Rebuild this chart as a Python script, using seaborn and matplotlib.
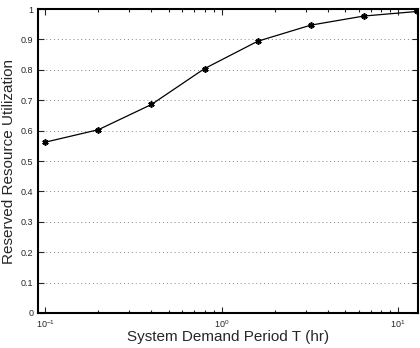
import matplotlib
matplotlib.use("Agg")
import matplotlib.pyplot as plt
import seaborn as sns
import pandas as pd
from matplotlib.ticker import LogLocator

# demand period (hr) vs reserved utilization
period_hr = [0.1, 0.2, 0.4, 0.8, 1.6, 3.2, 6.4, 12.8]
utilization = [0.562, 0.603, 0.686, 0.804, 0.894, 0.947, 0.977, 0.992]
y_ticks = [0, 0.1, 0.2, 0.3, 0.4, 0.5, 0.6, 0.7, 0.8, 0.9, 1]
y_tick_labels = ["0", "0.1", "0.2", "0.3", "0.4", "0.5", "0.6", "0.7", "0.8", "0.9", "1"]

df = pd.DataFrame({"T": period_hr, "util": utilization})

sns.set_style("ticks")
plt.rcParams["font.family"] = ["Liberation Sans", "DejaVu Sans"]
plt.rcParams["mathtext.fontset"] = "custom"
plt.rcParams["mathtext.rm"] = "Liberation Sans"

fig = plt.figure(figsize=(4.2, 3.48), dpi=100)
ax = fig.add_axes([0.0905, 0.1006, 0.905, 0.8734])

sns.lineplot(data=df, x="T", y="util", ax=ax, color="black", linewidth=0.9,
             marker=(6, 2, 0), markersize=4.5, markeredgewidth=1.2, markeredgecolor="black")

ax.set_xscale("log")
ax.set_xlim(0.091, 13.0)
ax.set_ylim(0, 1)
ax.set_yticks(y_ticks)
ax.set_yticklabels(y_tick_labels)
ax.xaxis.set_major_locator(LogLocator(base=10))
ax.xaxis.set_minor_locator(LogLocator(base=10, subs=range(2, 10)))

ax.grid(axis="y", linestyle=(0, (1, 3)), color="#888888", linewidth=0.7)
ax.tick_params(which="both", direction="in", top=True, right=True, labelsize=6.5, width=0.8)
ax.tick_params(which="major", length=4)
ax.tick_params(which="minor", length=2)
for s in ax.spines.values():
    s.set_linewidth(1.5)
    s.set_color("black")

ax.set_xlabel("System Demand Period T (hr)", fontsize=11, labelpad=0)
ax.set_ylabel("Reserved Resource Utilization", fontsize=11, labelpad=3)

fig.savefig("out.png", dpi=100)
